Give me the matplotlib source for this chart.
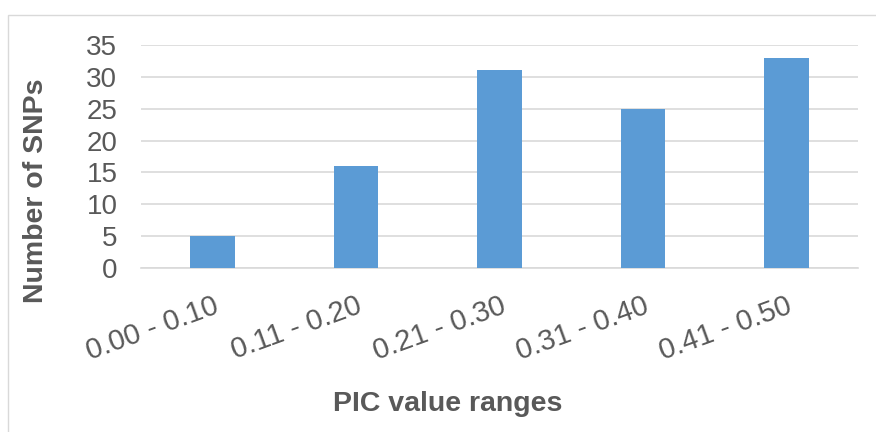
import matplotlib
matplotlib.use("Agg")
import matplotlib.pyplot as plt
from matplotlib.patches import Rectangle

categories = ["0.00 - 0.10", "0.11 - 0.20", "0.21 - 0.30", "0.31 - 0.40", "0.41 - 0.50"]
snp_counts = [5, 16, 31, 25, 33]
y_ticks = [0, 5, 10, 15, 20, 25, 30, 35]

plt.rcParams['font.family'] = ['Liberation Sans', 'DejaVu Sans']

text_color = "#595959"
grid_color = "#D9D9D9"
bar_color = "#5B9BD5"

fig = plt.figure(figsize=(8.76, 4.32), dpi=100)
ax = fig.add_axes([141 / 876, 1 - 268 / 432, (858 - 141) / 876, (268 - 45) / 432])

# chart area outline
fig.patches.append(Rectangle((8 / 876, -0.1), 1.2, 1 - 15 / 432 + 0.1,
                             transform=fig.transFigure, fill=False,
                             edgecolor=grid_color, linewidth=1.0))

x = range(len(categories))
ax.bar(x, snp_counts, width=0.31, color=bar_color, zorder=3)

ax.set_xlim(-0.5, len(categories) - 0.5)
ax.set_ylim(0, 35)
ax.set_yticks(y_ticks)
ax.set_yticklabels([str(t) for t in y_ticks])
ax.yaxis.grid(True, color=grid_color, linewidth=1.2, zorder=0)
ax.set_axisbelow(True)

for side in ("top", "right", "left"):
    ax.spines[side].set_visible(False)
ax.spines["bottom"].set_color(grid_color)
ax.spines["bottom"].set_linewidth(1.2)

ax.tick_params(axis="y", length=0, pad=17, labelsize=20, labelcolor=text_color)
ax.tick_params(axis="x", length=0, pad=17, labelsize=21, labelcolor=text_color)
ax.set_xticks(list(x))
ax.set_xticklabels(categories, rotation=20, ha="right", va="top", rotation_mode="anchor")

fig.text(448 / 876, 1 - 404 / 432, "PIC value ranges", ha="center", va="center",
         fontsize=20.5, fontweight="bold", color=text_color)
fig.text(36 / 876, 1 - 191 / 432, "Number of SNPs", ha="center", va="center",
         rotation=90, fontsize=20.5, fontweight="bold", color=text_color)

fig.savefig("out.png", dpi=100)
